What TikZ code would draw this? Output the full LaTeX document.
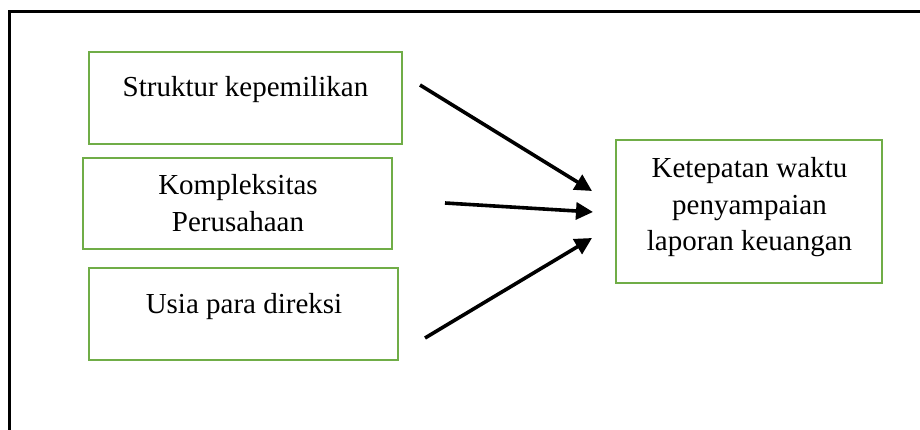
\documentclass[tikz,border=0pt]{standalone}
\usepackage{fontspec}
\setmainfont{Liberation Serif}
\usetikzlibrary{arrows.meta}
\definecolor{boxgreen}{HTML}{70AD47}
\tikzset{
  box/.style={draw=boxgreen, line width=2.5pt, rectangle, inner sep=0pt},
  lbl/.style={anchor=base, inner sep=0pt, font=\fontsize{29}{36}\selectfont},
  conn/.style={line width=3.6pt, -{Triangle[length=17pt,width=17pt]}},
  frame/.style={line width=3pt, black}
}
\begin{document}
\begin{tikzpicture}[x=1pt,y=-1pt]
\useasboundingbox (0,0) rectangle (920,430);
\draw[frame] (9,430) -- (9,12) -- (920,12);
% boxes
\node[box, minimum width=313pt, minimum height=92pt] (b1) at (245.5,98) {};
\node[box, minimum width=309pt, minimum height=91pt] (b2) at (237.5,203.5) {};
\node[box, minimum width=309pt, minimum height=92pt] (b3) at (243.5,314) {};
\node[box, minimum width=266pt, minimum height=143pt] (b4) at (749,211.5) {};
% labels
\node[lbl] (t1) at (245.5,97) {Struktur kepemilikan};
\node[lbl] (t2a) at (238,195) {Kompleksitas};
\node[lbl] (t2b) at (238,232) {Perusahaan};
\node[lbl] (t3) at (244,313) {Usia para direksi};
\node[lbl] (t4a) at (749.5,178) {Ketepatan waktu};
\node[lbl] (t4b) at (749.5,214.5) {penyampaian};
\node[lbl] (t4c) at (749.5,251) {laporan keuangan};
% arrow ends
\coordinate (s1) at (420,85);
\coordinate (e1) at (592,191);
\coordinate (s2) at (445,203);
\coordinate (e2) at (593,212);
\coordinate (s3) at (425,338);
\coordinate (e3) at (592,238);
\draw[conn] (s1) -- (e1);
\draw[conn] (s2) -- (e2);
\draw[conn] (s3) -- (e3);
\end{tikzpicture}
\end{document}
